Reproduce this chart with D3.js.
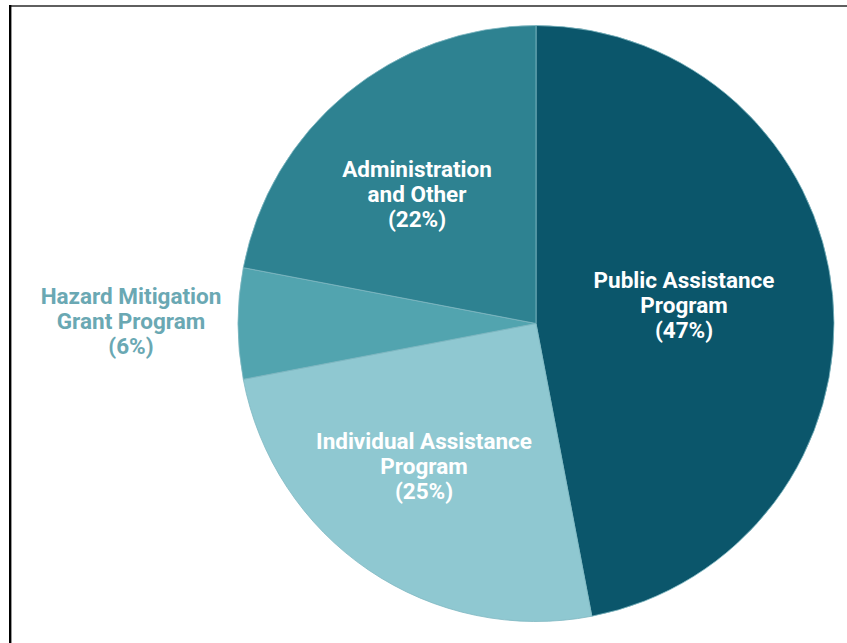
<!DOCTYPE html>
<html>
<head>
<meta charset="utf-8">
<script src="https://cdn.jsdelivr.net/npm/d3@7"></script>
<style>
  html, body { margin: 0; padding: 0; background: #ffffff; }
  svg { display: block; }
</style>
</head>
<body>
<script>
// Program shares, clockwise from 12 o'clock
const categories = ["Public Assistance Program", "Individual Assistance Program", "Hazard Mitigation Grant Program", "Administration and Other"];
const shares = [47, 25, 6, 22];
const labelLines = [
  ["Public Assistance", "Program", "(47%)"],
  ["Individual Assistance", "Program", "(25%)"],
  ["Hazard Mitigation", "Grant Program", "(6%)"],
  ["Administration", "and Other", "(22%)"]
];
const sliceColors = ["#0b566b", "#8fc8d1", "#52a4af", "#2e8291"];
const labelColors = ["#ffffff", "#ffffff", "#6aa8b3", "#ffffff"];

const width = 847, height = 643;
const cx = 536, cy = 323.5, radius = 298;

const svg = d3.select("body").append("svg")
  .attr("width", width)
  .attr("height", height);

// frame lines along the top and left edges
svg.append("line")
  .attr("x1", 9).attr("x2", width).attr("y1", 6).attr("y2", 6)
  .attr("stroke", "#2a2a2a").attr("stroke-width", 1.6);
svg.append("line")
  .attr("x1", 10.2).attr("x2", 10.2).attr("y1", 5).attr("y2", height)
  .attr("stroke", "#000").attr("stroke-width", 2.4);

const data = categories.map((c, i) => ({ name: c, value: shares[i], lines: labelLines[i], fill: sliceColors[i], ink: labelColors[i] }));

const pie = d3.pie().sort(null).value(d => d.value).startAngle(0).endAngle(2 * Math.PI);
const arc = d3.arc().innerRadius(0).outerRadius(radius);

const g = svg.append("g").attr("transform", `translate(${cx},${cy})`);

g.selectAll("path.slice")
  .data(pie(data))
  .join("path")
  .attr("class", "slice")
  .attr("d", arc)
  .attr("fill", d => d.data.fill)
  .attr("stroke", "#7fb8c2")
  .attr("stroke-width", 0.8);

// first-line baseline of each label block (page coordinates)
const labelPos = [
  [684, 288], [424, 449], [131, 304], [417, 177]
];

const labels = g.selectAll("text.lbl")
  .data(pie(data))
  .join("text")
  .attr("class", "lbl")
  .attr("text-anchor", "middle")
  .attr("font-family", "Roboto, 'Open Sans', sans-serif")
  .attr("font-weight", 700)
  .attr("font-size", 22.5)
  .attr("fill", d => d.data.ink)
  .attr("transform", (d, i) => `translate(${labelPos[i][0] - cx},${labelPos[i][1] - cy})`);

labels.selectAll("tspan")
  .data(d => d.data.lines)
  .join("tspan")
  .attr("x", 0)
  .attr("y", (l, j) => j * 25)
  .text(l => l);
</script>
</body>
</html>
